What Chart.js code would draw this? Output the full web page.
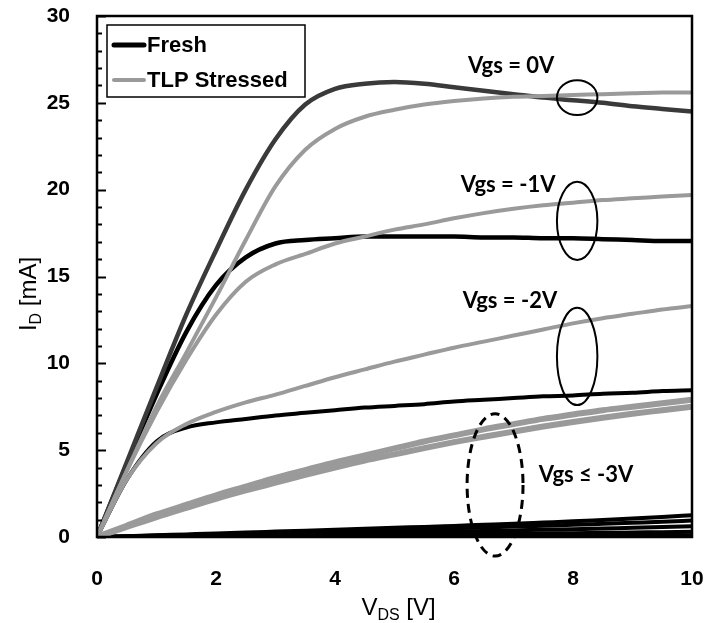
<!DOCTYPE html>
<html>
<head>
<meta charset="utf-8">
<script src="https://cdn.jsdelivr.net/npm/chart.js@4/dist/chart.umd.min.js"></script>
<style>
  body { margin: 0; background: #fff; }
  #wrap { width: 709px; height: 623px; }
</style>
</head>
<body>
<div id="wrap"><canvas id="ivChart"></canvas></div>
<script>
// V_DS sweep (V)
const vds = [0, 0.5, 1, 1.5, 2, 2.5, 3, 3.5, 4, 4.5, 5, 5.5, 6, 6.5, 7, 7.5, 8, 8.5, 9, 9.5, 10];

// I_D (mA) - fresh device
const freshVgs0  = [0, 4.3, 8.6, 12.8, 16.5, 20.0, 22.9, 24.9, 25.8, 26.1, 26.2, 26.1, 25.9, 25.7, 25.5, 25.3, 25.15, 25.0, 24.8, 24.65, 24.5];
const freshVgsM1 = [0, 4.2, 8.2, 11.8, 14.5, 16.1, 16.9, 17.1, 17.2, 17.3, 17.3, 17.3, 17.3, 17.25, 17.25, 17.2, 17.2, 17.15, 17.1, 17.05, 17.05];
const freshVgsM2 = [0, 3.3, 5.5, 6.3, 6.6, 6.8, 7.0, 7.15, 7.3, 7.45, 7.55, 7.65, 7.8, 7.9, 8.0, 8.1, 8.15, 8.25, 8.3, 8.4, 8.45];
const freshOff = [
  [0, 0.05, 0.1, 0.15, 0.2, 0.26, 0.31, 0.36, 0.42, 0.47, 0.53, 0.58, 0.64, 0.7, 0.76, 0.83, 0.9, 0.98, 1.06, 1.15, 1.25],
  [0, 0.04, 0.08, 0.12, 0.16, 0.2, 0.24, 0.28, 0.32, 0.37, 0.41, 0.46, 0.5, 0.55, 0.6, 0.65, 0.7, 0.76, 0.82, 0.88, 0.95],
  [0, 0.03, 0.05, 0.08, 0.1, 0.13, 0.15, 0.18, 0.21, 0.23, 0.26, 0.29, 0.32, 0.35, 0.38, 0.42, 0.45, 0.49, 0.53, 0.57, 0.62],
  [0, 0.01, 0.02, 0.03, 0.05, 0.06, 0.07, 0.08, 0.1, 0.11, 0.12, 0.14, 0.15, 0.17, 0.18, 0.2, 0.22, 0.24, 0.26, 0.28, 0.3],
  [0, 0.0, 0.01, 0.01, 0.02, 0.02, 0.03, 0.03, 0.04, 0.04, 0.05, 0.05, 0.06, 0.06, 0.07, 0.07, 0.08, 0.08, 0.09, 0.09, 0.1]
];

// I_D (mA) - after TLP stress
const tlpVgs0  = [0, 3.8, 7.5, 10.6, 13.8, 17.1, 20.2, 22.3, 23.5, 24.2, 24.6, 24.9, 25.1, 25.25, 25.35, 25.4, 25.45, 25.5, 25.55, 25.6, 25.6];
const tlpVgsM1 = [0, 3.8, 7.2, 10.2, 12.8, 14.7, 15.7, 16.3, 16.9, 17.3, 17.7, 18.0, 18.35, 18.65, 18.9, 19.1, 19.25, 19.4, 19.5, 19.6, 19.7];
const tlpVgsM2 = [0, 3.3, 5.4, 6.5, 7.2, 7.75, 8.2, 8.7, 9.2, 9.65, 10.1, 10.5, 10.9, 11.25, 11.6, 11.95, 12.3, 12.6, 12.85, 13.1, 13.3];
const tlpOff = [
  [0, 0.65, 1.3, 1.85, 2.4, 2.9, 3.4, 3.85, 4.3, 4.7, 5.1, 5.5, 5.85, 6.2, 6.5, 6.8, 7.05, 7.3, 7.5, 7.7, 7.9],
  [0, 0.58, 1.15, 1.68, 2.2, 2.68, 3.13, 3.58, 4.0, 4.4, 4.76, 5.12, 5.46, 5.77, 6.07, 6.36, 6.62, 6.87, 7.1, 7.3, 7.5]
];

const legendLabels = ['Fresh', 'TLP Stressed'];
const vgsLabels = ['Vgs = 0V', 'Vgs = -1V', 'Vgs = -2V', 'Vgs \u2264 -3V'];

const GREY = '#9a9a9a';
const pts = arr => arr.map((v, i) => ({ x: vds[i], y: v }));
const curve = (arr, color, width) => ({
  data: pts(arr),
  borderColor: color,
  borderWidth: width,
  pointRadius: 0,
  cubicInterpolationMode: 'monotone',
  fill: false
});

// stressed curves first so they sit on top
const datasets = [
  curve(tlpVgs0, GREY, 4),
  curve(tlpVgsM1, GREY, 4),
  curve(tlpVgsM2, GREY, 4),
  ...tlpOff.map(a => curve(a, GREY, 6)),
  curve(freshVgs0, '#3a3a3a', 4.5),
  curve(freshVgsM1, '#000', 4.5),
  curve(freshVgsM2, '#000', 4),
  ...freshOff.map(a => curve(a, '#000', 4))
];

// frame, inward ticks, axis titles with subscripts, legend box and Vgs callouts
const decorations = {
  id: 'decorations',
  afterDraw(chart) {
    const { ctx, chartArea: a, scales: { x, y } } = chart;
    ctx.save();

    ctx.strokeStyle = '#000';
    ctx.lineWidth = 2.5;
    ctx.strokeRect(a.left, a.top, a.right - a.left, a.bottom - a.top);

    ctx.lineWidth = 2;
    for (let v = 0; v <= 30; v++) {
      const py = Math.round(y.getPixelForValue(v)) + 0.5;
      const len = v % 5 === 0 ? 9 : 5;
      ctx.beginPath();
      ctx.moveTo(a.left, py);
      ctx.lineTo(a.left + len, py);
      ctx.stroke();
    }

    // axis titles
    ctx.fillStyle = '#000';
    ctx.textBaseline = 'alphabetic';
    const subTitle = (main, sub, rest) => {
      const big = '24px "Liberation Sans", Arial, sans-serif';
      const small = '16px "Liberation Sans", Arial, sans-serif';
      ctx.font = big; const w1 = ctx.measureText(main).width;
      ctx.font = small; const w2 = ctx.measureText(sub).width;
      ctx.font = big; const w3 = ctx.measureText(rest).width;
      let cx = -(w1 + w2 + w3) / 2;
      ctx.textAlign = 'left';
      ctx.font = big; ctx.fillText(main, cx, 0); cx += w1;
      ctx.font = small; ctx.fillText(sub, cx, 5); cx += w2;
      ctx.font = big; ctx.fillText(rest, cx, 0);
    };
    ctx.save();
    ctx.translate((a.left + a.right) / 2 + 4, 615);
    subTitle('V', 'DS', ' [V]');
    ctx.restore();
    ctx.save();
    ctx.translate(36, 294);
    ctx.rotate(-Math.PI / 2);
    subTitle('I', 'D', ' [mA]');
    ctx.restore();

    // legend
    const lx = a.left + 10, ly = a.top + 9;
    ctx.lineWidth = 1.5;
    ctx.strokeRect(lx, ly, 198, 72);
    ctx.font = 'bold 22px "Liberation Sans", Arial, sans-serif';
    ctx.textAlign = 'left';
    ctx.textBaseline = 'middle';
    [['#000', 5], [GREY, 4]].forEach(([c, w], i) => {
      const yy = ly + 20 + i * 35;
      ctx.strokeStyle = c;
      ctx.lineWidth = w;
      ctx.lineCap = 'round';
      ctx.beginPath();
      ctx.moveTo(lx + 7, yy);
      ctx.lineTo(lx + 37, yy);
      ctx.stroke();
      ctx.fillText(legendLabels[i], lx + 40, yy + 1);
    });
    ctx.lineCap = 'butt';

    // Vgs callouts: label centre and ellipse (centre, radii) in data units
    const callouts = [
      { tx: 6.96, ty: 27.1, ex: 8.07, ey: 25.3, rx: 0.34, ry: 1.0, dash: [] },
      { tx: 6.91, ty: 20.3, ex: 8.07, ey: 18.2, rx: 0.34, ry: 2.25, dash: [] },
      { tx: 6.94, ty: 13.6, ex: 8.07, ey: 10.4, rx: 0.34, ry: 2.8, dash: [] },
      { tx: 8.22, ty: 3.6, ex: 6.69, ey: 3.0, rx: 0.47, ry: 4.1, dash: [9, 6] }
    ];
    ctx.strokeStyle = '#000';
    ctx.fillStyle = '#000';
    ctx.textAlign = 'center';
    ctx.textBaseline = 'middle';
    ctx.font = 'bold 22px Lato, "Open Sans", sans-serif';
    callouts.forEach((c, i) => {
      ctx.fillText(vgsLabels[i], x.getPixelForValue(c.tx), y.getPixelForValue(c.ty));
      const cx = x.getPixelForValue(c.ex), cy = y.getPixelForValue(c.ey);
      const rx = x.getPixelForValue(c.ex + c.rx) - cx;
      const ry = cy - y.getPixelForValue(c.ey + c.ry);
      ctx.lineWidth = c.dash.length ? 3 : 2;
      ctx.setLineDash(c.dash);
      ctx.beginPath();
      ctx.ellipse(cx, cy, rx, ry, 0, 0, Math.PI * 2);
      ctx.stroke();
    });
    ctx.setLineDash([]);
    ctx.restore();
  }
};

const tickFont = { family: '"Liberation Sans", Arial, sans-serif', size: 21, weight: 'bold' };

new Chart(document.getElementById('ivChart'), {
  type: 'line',
  data: { datasets },
  options: {
    responsive: true,
    maintainAspectRatio: false,
    animation: false,
    layout: { padding: { top: 16, right: 17, left: 0, bottom: 0 } },
    plugins: { legend: { display: false }, tooltip: { enabled: false } },
    scales: {
      x: {
        type: 'linear',
        min: 0,
        max: 10,
        grid: { display: false, drawTicks: false },
        border: { display: false },
        ticks: { stepSize: 2, color: '#000', font: tickFont, padding: 30, maxRotation: 0 },
        // fixed axis band; label overflow is covered by the layout padding
        afterFit: s => { s.height = 86; s.paddingLeft = 0; s.paddingRight = 0; }
      },
      y: {
        min: 0,
        max: 30,
        grid: { display: false, drawTicks: false },
        border: { display: false },
        ticks: { stepSize: 5, color: '#000', font: tickFont, padding: 27 },
        afterFit: s => { s.width = 97; s.paddingTop = 0; s.paddingBottom = 0; }
      }
    }
  },
  plugins: [decorations]
});
</script>
</body>
</html>
